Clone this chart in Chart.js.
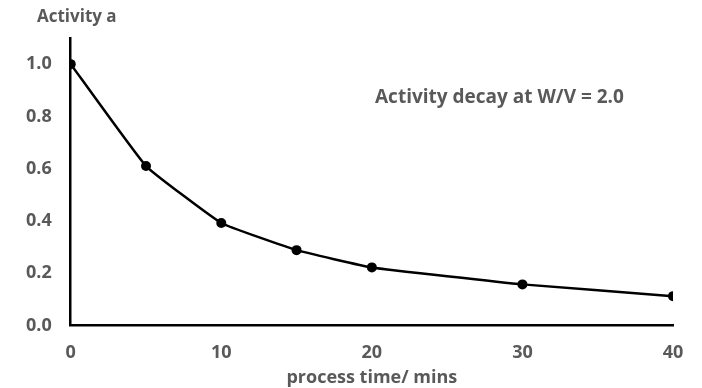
<!DOCTYPE html>
<html>
<head>
<meta charset="utf-8">
<script src="https://cdn.jsdelivr.net/npm/chart.js@4/dist/chart.umd.min.js"></script>
<style>
html,body{margin:0;padding:0;background:#fff;}
#wrap{width:702px;height:388px;}
</style>
</head>
<body>
<div id="wrap"><canvas id="decayChart" width="702" height="388"></canvas></div>
<script>
const times=[0,5,10,15,20,30,40];
const activity=[1.0,0.61,0.392,0.288,0.222,0.157,0.112];
const xTicks=[0,10,20,30,40];
const yTicks=[0,0.2,0.4,0.6,0.8,1.0];

const labelColor='#595959';
const labelFont='"Open Sans", "Liberation Sans", sans-serif';

// free text: axis headings and the note inside the plot
const notes={
id:'notes',
afterDraw(chart){
const ctx=chart.ctx;
const area=chart.chartArea;
ctx.save();
ctx.fillStyle=labelColor;
ctx.textBaseline='middle';
ctx.textAlign='left';
ctx.font='bold 17px '+labelFont;
ctx.fillText('Activity a',37,17);
ctx.font='bold 19px '+labelFont;
ctx.fillText('Activity decay at W/V = 2.0',375,98);
ctx.textAlign='center';
ctx.font='bold 18px '+labelFont;
ctx.fillText('process time/ mins',(area.left+area.right)/2,378);
ctx.restore();
}
};

new Chart(
document.getElementById('decayChart'),
{
type:'line',
data:{
datasets:[{
label:'Activity',
data:times.map((t,i)=>({x:t,y:activity[i]})),
borderColor:'#000',
backgroundColor:'#000',
borderWidth:2.5,
pointRadius:5,
pointBackgroundColor:'#000',
pointBorderWidth:0,
tension:0.1
}]
},
options:{
responsive:false,
animation:false,
layout:{padding:{top:38,left:7,right:29,bottom:7}},
plugins:{legend:{display:false},tooltip:{enabled:false}},
scales:{
x:{
type:'linear',
min:0,max:40,
afterBuildTicks:s=>{s.ticks=xTicks.map(v=>({value:v}));},
grid:{display:false,drawTicks:false},
border:{color:'#000',width:2.5},
ticks:{color:labelColor,font:{family:labelFont,size:18,weight:'bold'},padding:17}
},
y:{
min:0,max:1.1,
afterBuildTicks:s=>{s.ticks=yTicks.map(v=>({value:v}));},
grid:{display:false,drawTicks:false},
border:{color:'#000',width:2.5},
ticks:{color:labelColor,font:{family:labelFont,size:18,weight:'bold'},padding:19,callback:v=>v.toFixed(1)}
}
}
},
plugins:[notes]
}
);
</script>
</body>
</html>
